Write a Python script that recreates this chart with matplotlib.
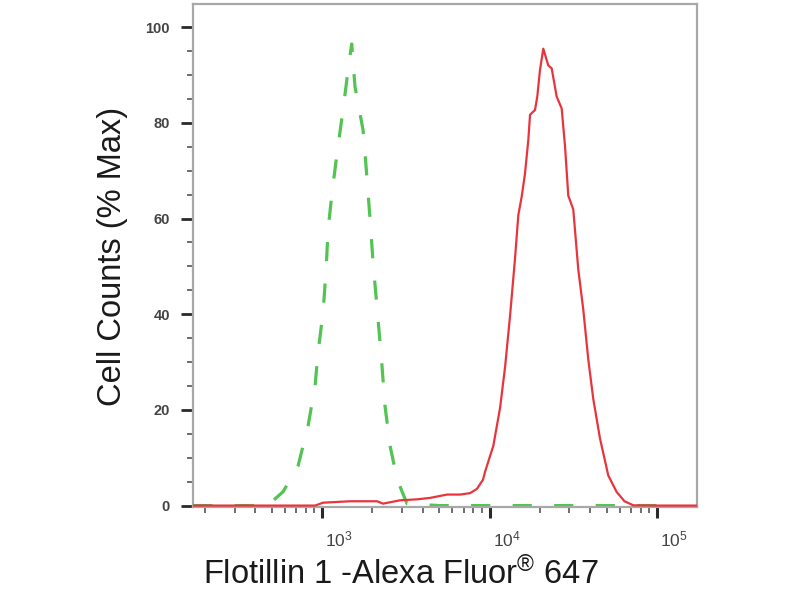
import matplotlib
matplotlib.use("Agg")
import matplotlib.pyplot as plt
from matplotlib.ticker import FixedLocator, FixedFormatter, NullFormatter, LogLocator
import matplotlib.transforms as mtransforms

plt.rcParams['font.family'] = ['Liberation Sans', 'DejaVu Sans']
plt.rcParams['mathtext.fontset'] = 'custom'
plt.rcParams['mathtext.rm'] = 'Liberation Sans'
plt.rcParams['mathtext.it'] = 'Liberation Sans'
plt.rcParams['mathtext.bf'] = 'Liberation Sans:bold'

# Isotype control (green dashed)
green_x = [170, 300, 476, 501, 585, 719, 825, 908, 946, 1014, 1057, 1086, 1147, 1230,
           1334, 1429, 1503, 1573, 1757, 1832, 1909, 1936, 2016, 2159, 2280, 2376,
           2546, 2803, 3006, 3215, 5000, 20000, 100000]
green_y = [0, 0, 0, 0.8, 2.9, 8.3, 16.7, 25, 32, 40.4, 49.4, 57.7, 65.4, 73.8,
           82.7, 91, 96.5, 87.5, 78.5, 70.8, 62.5, 59.8, 50.8, 39, 29.2, 20.8,
           12.5, 5.6, 2.9, 0.4, 0, 0, 0]

# Flotillin 1 staining (red)
red_x = [170, 600, 908, 1014, 1469, 2129, 2312, 2924, 3690, 4412, 5576, 6668, 7658,
         8419, 9141, 9394, 10540, 11560, 12390, 13260, 14190, 14860, 15570, 16290,
         17060, 17460, 18700, 19290, 20010, 20950, 22440, 23510, 25180, 26980,
         28250, 29540, 31640, 33890, 36300, 38880, 41650, 45710, 51200, 57440,
         64000, 72300, 100000, 173000]
red_y = [0, 0, 0, 0.6, 0.9, 0.9, 0.4, 1.1, 1.3, 1.6, 2.3, 2.3, 2.6,
         3.5, 5.4, 7.0, 12.5, 20.4, 29.0, 39.6, 51.5, 60.7, 64.6, 69.4,
         76.5, 81.7, 82.7, 85.5, 91.0, 95.5, 92.0, 91.4, 85.5, 83.0,
         75.1, 64.8, 61.9, 49.4, 41.0, 30.6, 22.3, 14.0, 6.3, 2.85,
         0.9, 0.05, 0, 0]

y_major = [0, 20, 40, 60, 80, 100]
y_minor = [5, 10, 15, 25, 30, 35, 45, 50, 55, 65, 70, 75, 85, 90, 95]
x_major = [1e3, 1e4, 1e5]
x_major_labels = ['$10^{3}$', '$10^{4}$', '$10^{5}$']

fig = plt.figure(figsize=(8, 6), dpi=100)
ax = fig.add_axes([0.241, 0.155, 0.630, 0.838])

ax.plot(green_x, green_y, color='#52c452', lw=2.3, linestyle=(0, (6, 7)), zorder=2)
ax.plot(red_x, red_y, color='#e8353d', lw=1.6, zorder=3)

ax.set_xscale('log')
ax.set_xlim(169, 173000)
ax.set_ylim(-0.3, 104.8)

for s in ax.spines.values():
    s.set_color('#a8a8a8')
    s.set_linewidth(1.6)

ax.yaxis.set_major_locator(FixedLocator(y_major))
ax.yaxis.set_minor_locator(FixedLocator(y_minor))
ax.set_yticklabels([str(v) for v in y_major])
ax.tick_params(axis='y', which='major', length=8.5, width=2.0, color='#2a2a2a',
               pad=8, labelsize=10.5, labelcolor='#444444')
ax.tick_params(axis='y', which='minor', length=4, width=1.2, color='#555555')

ax.xaxis.set_major_locator(FixedLocator(x_major))
ax.xaxis.set_major_formatter(FixedFormatter(x_major_labels))
ax.xaxis.set_minor_locator(LogLocator(base=10, subs=[2, 3, 4, 5, 6, 7, 8, 9]))
ax.xaxis.set_minor_formatter(NullFormatter())
ax.tick_params(axis='x', which='major', length=8, width=2.2, color='#2a2a2a',
               pad=8, labelsize=12.5, labelcolor='#444444')
ax.tick_params(axis='x', which='minor', length=4, width=1.2, color='#555555')

offset = mtransforms.ScaledTranslation(3 / 100, 0, fig.dpi_scale_trans)
for lab in ax.get_xticklabels():
    lab.set_horizontalalignment('left')
    lab.set_transform(lab.get_transform() + offset)

for lab in ax.get_yticklabels():
    lab.set_fontweight('bold')

fig.text(401 / 800, 1 - 584 / 600, 'Flotillin 1 -Alexa Fluor$^{\u00ae}$ 647',
         ha='center', va='baseline', fontsize=23.5, color='#1a1a1a')
fig.text(113 / 800, 1 - 256 / 600, 'Cell Counts (% Max)', rotation=90,
         ha='center', va='center', fontsize=23.5, color='#1a1a1a')

fig.savefig('out.png', dpi=100, facecolor='white')
